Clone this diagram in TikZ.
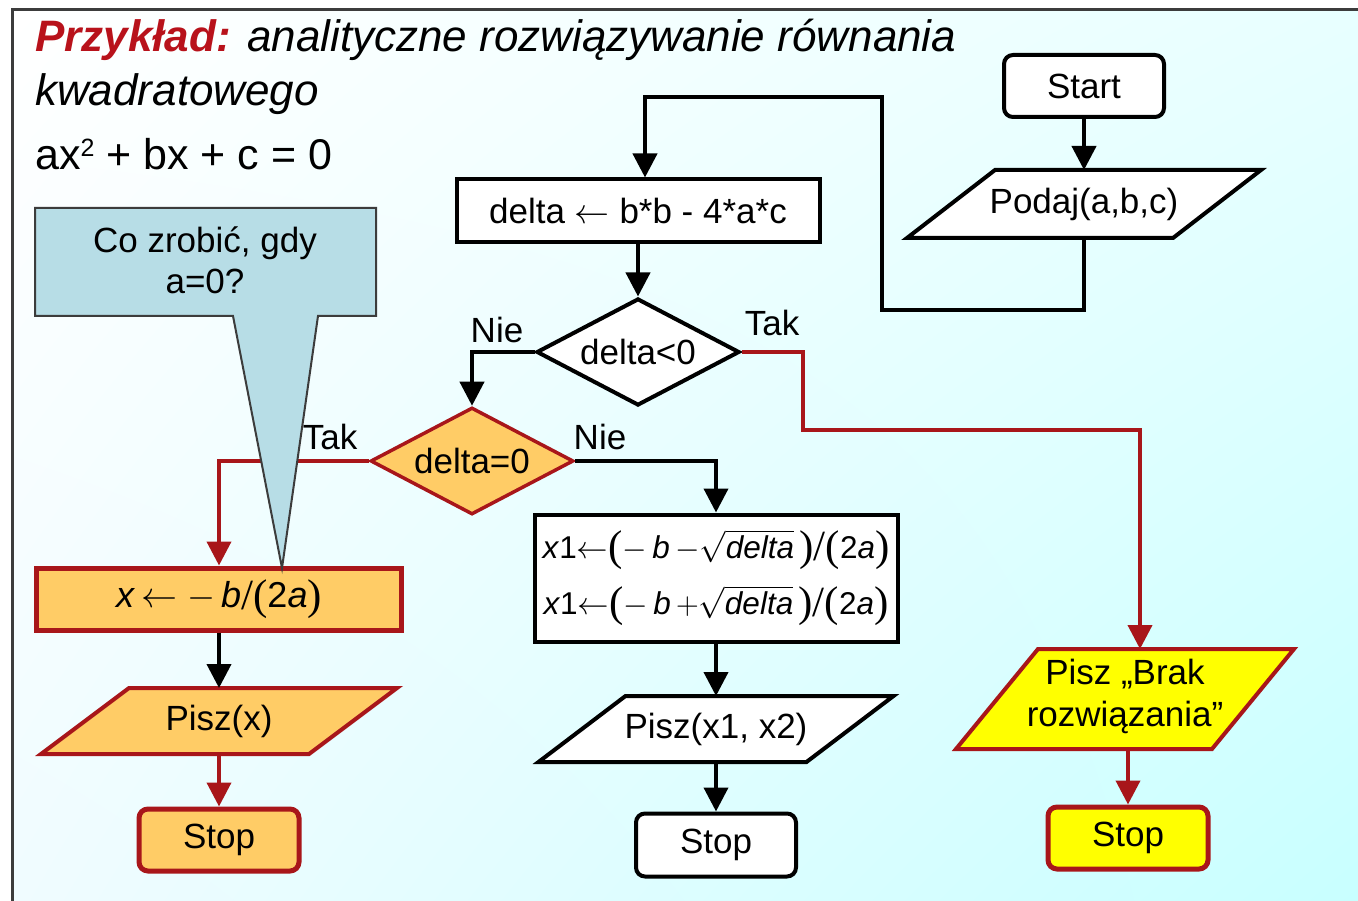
\RequirePackage{fix-cm}
\documentclass[tikz,border=0pt]{standalone}
\usepackage{fontspec}
\setmainfont{Liberation Sans}
\newfontfamily\delimfont{Liberation Serif}
\usetikzlibrary{shapes.geometric,arrows.meta,shadings}
\definecolor{dred}{RGB}{168,22,26}
\definecolor{orng}{RGB}{255,204,102}
\definecolor{ylw}{RGB}{255,255,0}
\definecolor{callblue}{RGB}{183,221,230}
\definecolor{framegray}{RGB}{60,60,60}
\definecolor{titlered}{RGB}{184,18,27}
\definecolor{bgTR}{RGB}{232,255,255}
\definecolor{bgBL}{RGB}{240,252,255}
\definecolor{bgBR}{RGB}{200,255,255}
% parallelogram drawn on the frame of an (invisible) rectangular node:
% #1 node name, #2 horizontal slant, #3 drawing options
\newcommand\ioshape[3]{%
  \filldraw[line width=4pt, line join=miter, #3]
    ([xshift=#2/2]#1.north west) -- ([xshift=#2/2]#1.north east) --
    ([xshift=-#2/2]#1.south east) -- ([xshift=-#2/2]#1.south west) -- cycle;}
% tall delimiters in the formulas
\newcommand\tallp[1]{{\delimfont\fontsize{43}{43}\selectfont\raisebox{-2pt}{#1}}}
\begin{document}
\begin{tikzpicture}[x=1pt,y=-1pt,
  every node/.style={font=\fontsize{35}{41}\selectfont, inner sep=0pt, align=center},
  box/.style={rectangle, draw, line width=4pt, fill=white},
  term/.style={rectangle, rounded corners=9pt, draw, line width=4pt, fill=white,
    minimum width=160pt, minimum height=62pt},
  ioframe/.style={rectangle, outer sep=2pt},
  dec/.style={diamond, shape aspect=1.9, draw, line width=4pt, fill=white,
    minimum width=203pt, minimum height=107pt},
  conn/.style={line width=4pt, -{Triangle[width=24pt,length=24pt]}},
]
\useasboundingbox (0,0) rectangle (1358,901);

% slide background and frame
\fill[white] (0,0) rectangle (1358,901);
\shade[upper left=white, upper right=bgTR, lower left=bgBL, lower right=bgBR]
  (12,10) rectangle (1358,901);
\draw[framegray, line width=3pt] (12,901) -- (12,10) -- (1358,10);

% heading
\node[anchor=base west, font=\fontsize{44}{50}\selectfont\itshape] (title1) at (35,52)
  {\textcolor{titlered}{\bfseries Przykład:} analityczne rozwiązywanie równania};
\node[anchor=base west, font=\fontsize{44}{50}\selectfont\itshape] (title2) at (35,106) {kwadratowego};
\node[anchor=base west, font=\fontsize{43}{50}\selectfont] (eqn) at (35,170)
  {ax\raisebox{13pt}{\fontsize{25}{25}\selectfont 2} + bx + c = 0};

% main flow
\node[term] (start) at (1084,86) {Start};
\node[ioframe, minimum width=262pt, minimum height=64pt] (podaj) at (1084,204) {};
\ioshape{podaj}{88}{fill=white}
\node (podajtxt) at (podaj) {Podaj(a,b,c)};
\node[box, minimum width=363pt, minimum height=63pt] (delta) at (638,211)
  {delta $\leftarrow$ b*b - 4*a*c};
\node[dec] (d1) at (638,352) {delta<0};
\node[dec, fill=orng, draw=dred, line width=3.5pt] (d2) at (472,461) {delta=0};

% two roots
\node[box, minimum width=363pt, minimum height=127pt, font=\fontsize{31.5}{56}\selectfont] (calc) at (716,578)
  {\textit{x}1$\leftarrow$\tallp{(}$-$\,\textit{b}\,$-\sqrt{\textit{delta}}$\,\tallp{)/(}2\textit{a}\tallp{)}\\
   \textit{x}1$\leftarrow$\tallp{(}$-$\,\textit{b}\,$+\sqrt{\textit{delta}}$\,\tallp{)/(}2\textit{a}\tallp{)}};
\node[ioframe, minimum width=264pt, minimum height=62pt] (pisz2) at (716,729) {};
\ioshape{pisz2}{87}{fill=white}
\node (pisz2txt) at (pisz2) {Pisz(x1, x2)};
\node[term, minimum height=63pt] (stop2) at (716,845) {Stop};

% one root
\node[box, fill=orng, draw=dred, line width=5pt, minimum width=365pt, minimum height=62pt,
      font=\fontsize{36}{41}\selectfont] (xbox) at (219,599)
  {\textit{x}\,$\leftarrow -$\,\textit{b}\tallp{/(}2\textit{a}\tallp{)}};
\node[ioframe, minimum width=264pt, minimum height=62pt] (piszx) at (219,721) {};
\ioshape{piszx}{88}{fill=orng, draw=dred}
\node (piszxtxt) at (piszx) {Pisz(x)};
\node[term, fill=orng, draw=dred, line width=5pt] (stop1) at (219,840) {Stop};

% no roots
\node[ioframe, minimum width=252pt, minimum height=96pt] (brak) at (1125,699) {};
\ioshape{brak}{82}{fill=ylw, draw=dred}
\node[font=\fontsize{35}{42}\selectfont] (braktxt) at (1125,696) {Pisz „Brak\\rozwiązania”};
\node[term, fill=ylw, draw=dred, line width=5pt] (stop3) at (1128,838) {Stop};

% branch labels
\node (nie1) at (497,330) {Nie};
\node (tak1) at (772,323) {Tak};
\node (nie2) at (600,437) {Nie};

% connectors
\coordinate (loopA) at (882,310);
\coordinate (loopB) at (882,97);
\coordinate (tk1) at (803,430);
\draw[conn] (start) -- (podaj);
\draw[conn] (podaj.south) |- (loopA) -- (loopB) -| ([xshift=7pt]delta.north);
\draw[conn] (delta) -- (d1);
\draw[conn] (d1.west) -| (d2.north);
\draw[conn, dred] (d1.east) -| (tk1) -| ([xshift=15pt]brak.north);
\draw[conn, dred] (d2.west) -| (xbox.north);
\draw[conn] (d2.east) -| (calc.north);
\draw[conn] (calc) -- (pisz2);
\draw[conn] (pisz2) -- (stop2);
\draw[conn] (xbox) -- (piszx);
\draw[conn, dred] (piszx) -- (stop1);
\draw[conn, dred] ([xshift=3pt]brak.south) -- (stop3);

% speech-bubble remark
\filldraw[fill=callblue, draw=framegray, line width=2pt]
  (35,208) -- (376,208) -- (376,316) -- (318,316) -- (282,568) -- (233,316) -- (35,316) -- cycle;
\node (remark) at (205,260) {Co zrobić, gdy\\a=0?};
\node (tak2) at (330,437) {Tak};
\end{tikzpicture}
\end{document}
